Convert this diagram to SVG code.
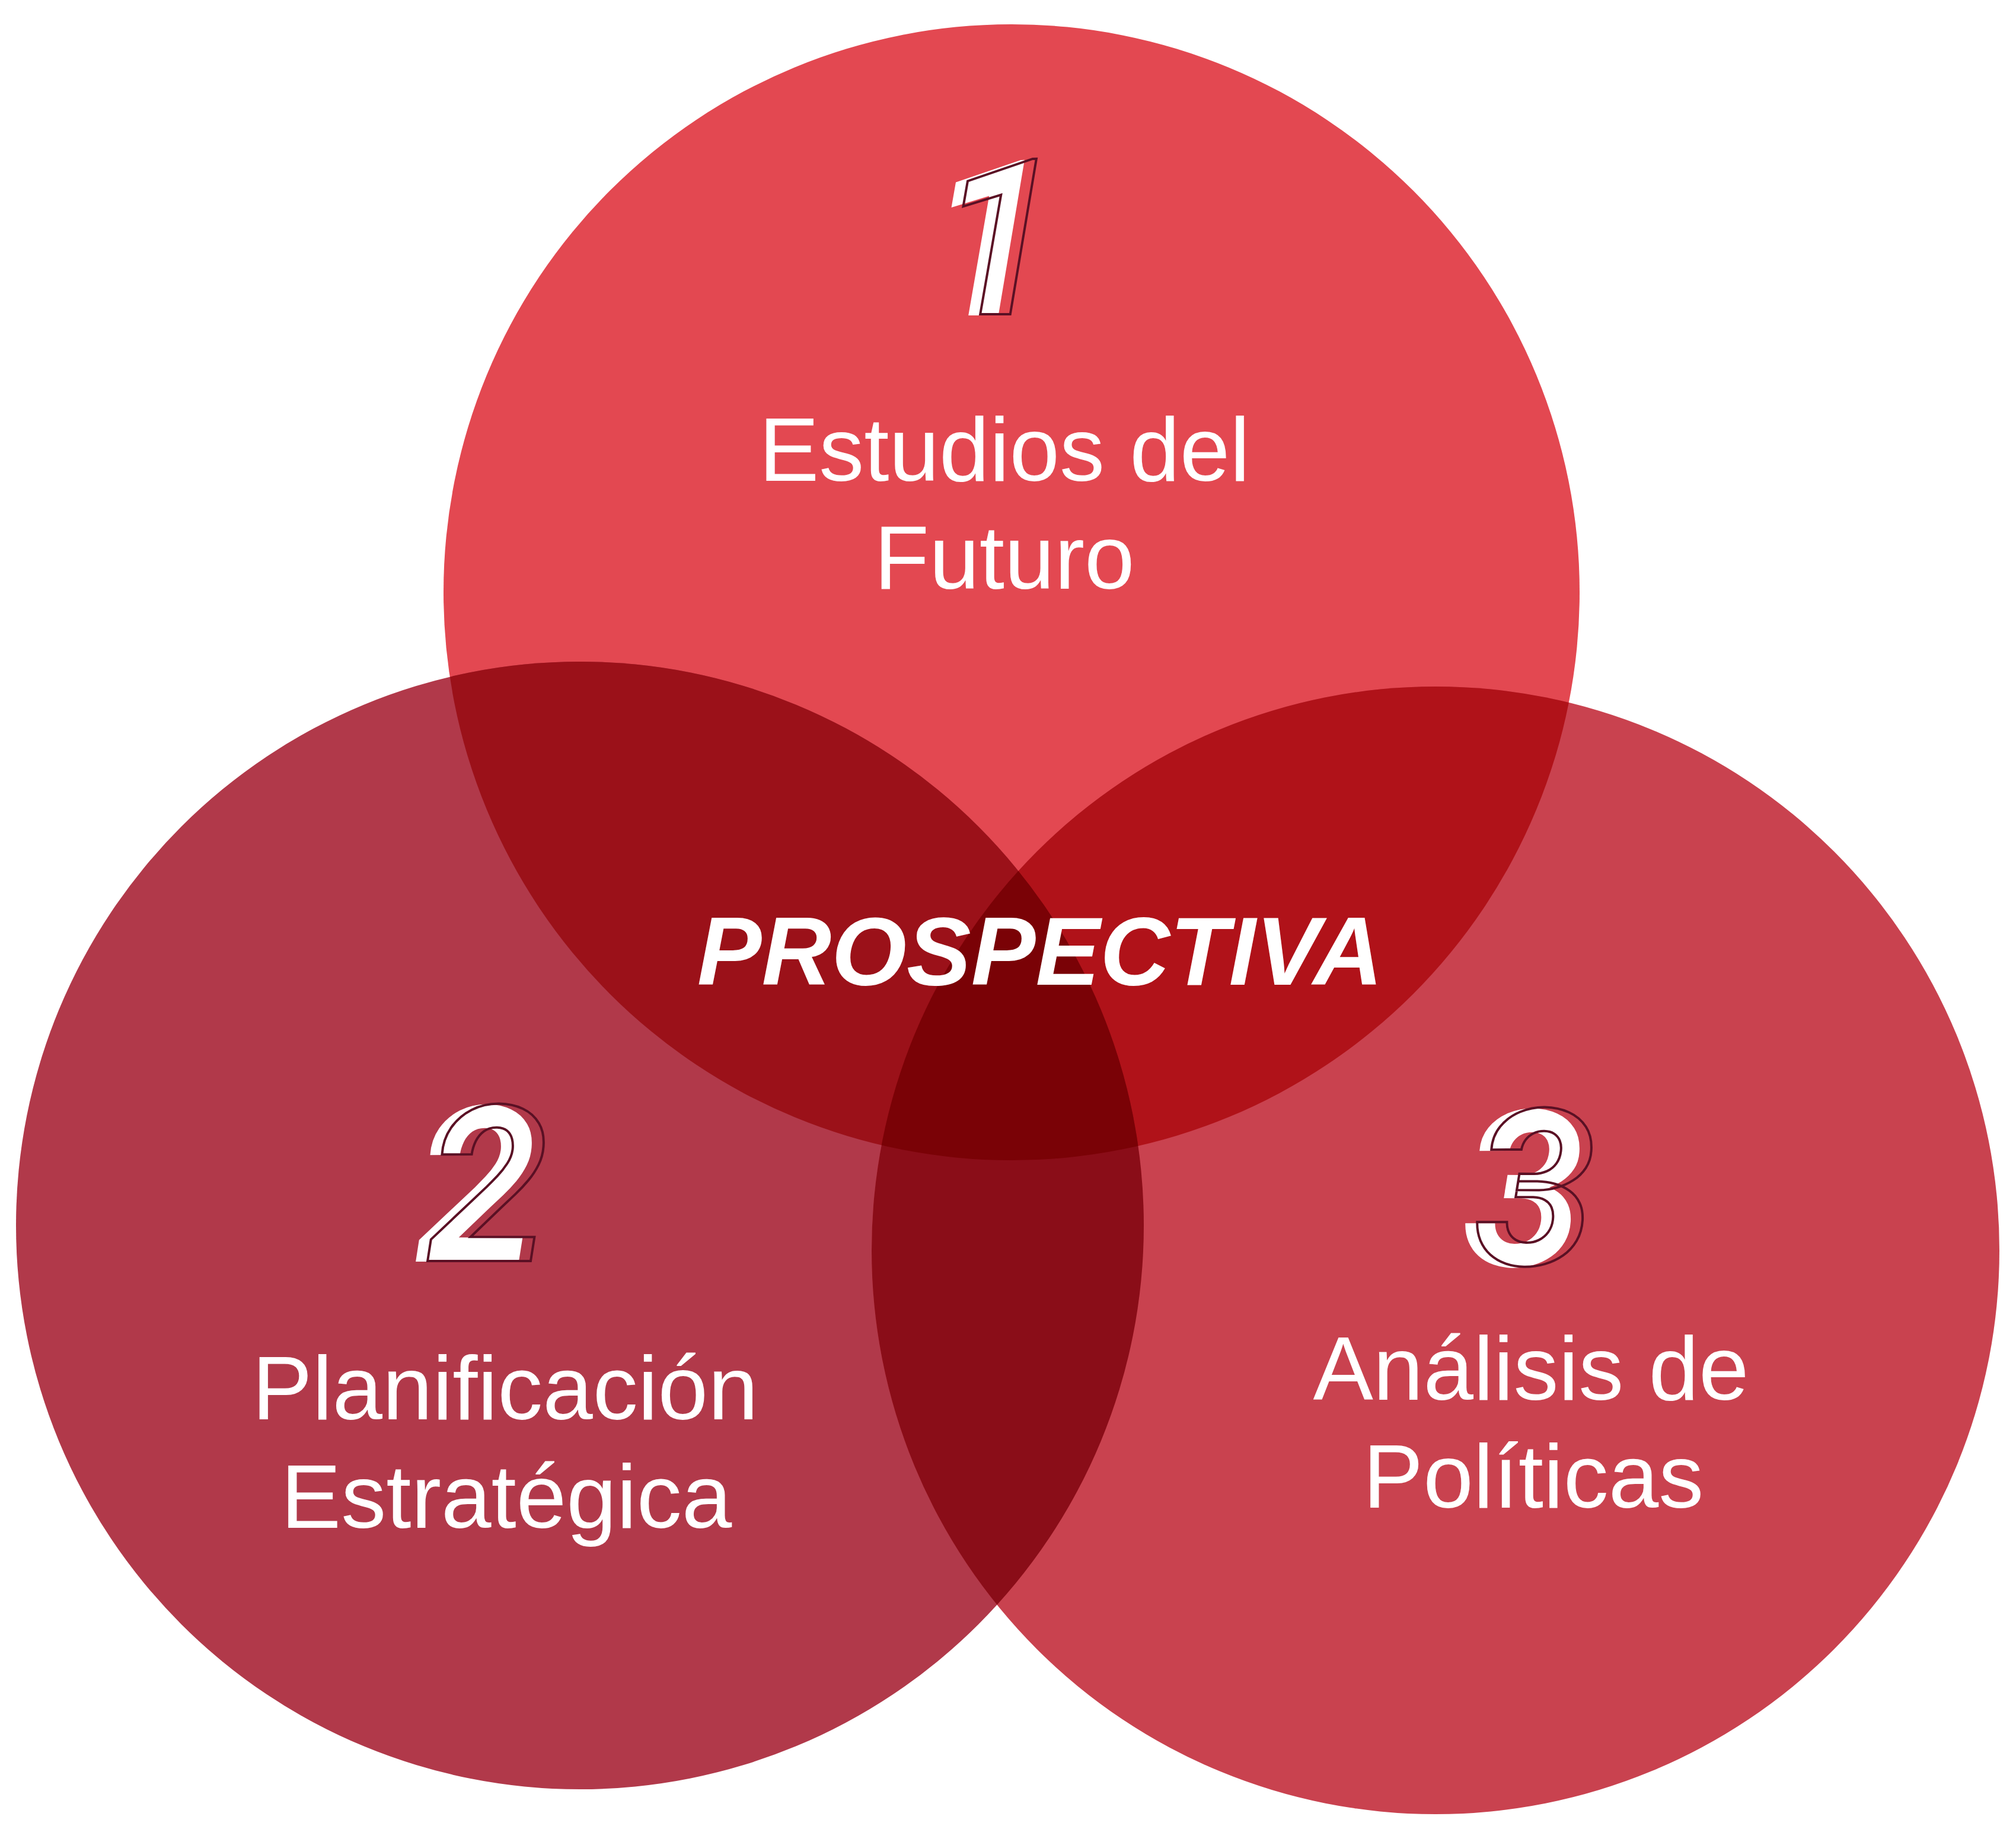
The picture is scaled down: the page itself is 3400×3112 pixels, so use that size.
<svg xmlns="http://www.w3.org/2000/svg" width="3400" height="3112" viewBox="0 0 3400 3112">
<style>
.lbl{font-family:"Liberation Sans",Arial,sans-serif;font-size:152px;fill:#ffffff;text-anchor:middle}
.num{font-family:Roboto,"Liberation Sans",Arial,sans-serif;font-size:368px;font-weight:bold;font-style:italic;text-anchor:middle}
.numw{fill:#ffffff}
.numo{fill:none;stroke:#5A1024;stroke-width:4}
.title{font-family:"Liberation Sans",Arial,sans-serif;font-size:163px;font-weight:bold;font-style:italic;fill:#ffffff;text-anchor:middle}
</style>
<defs>
<clipPath id="cTop"><circle cx="1706" cy="999" r="958"/></clipPath>
<clipPath id="cLeft"><circle cx="978" cy="2067" r="951"/></clipPath>
<clipPath id="cRight"><circle cx="2421" cy="2109" r="951"/></clipPath>
</defs>
<rect width="3400" height="3112" fill="#ffffff"/>
<g id="node-1-shape"><circle cx="1706" cy="999" r="958" fill="#E34851"/></g>
<g id="node-2-shape"><circle cx="978" cy="2067" r="951" fill="#B1394A"/></g>
<g id="node-3-shape"><circle cx="2421" cy="2109" r="951" fill="#C9424F"/></g>
<g id="overlaps">
<circle cx="978" cy="2067" r="951" fill="#9B1119" clip-path="url(#cTop)"/>
<circle cx="2421" cy="2109" r="951" fill="#B01219" clip-path="url(#cTop)"/>
<circle cx="2421" cy="2109" r="951" fill="#8A0D18" clip-path="url(#cLeft)"/>
<g clip-path="url(#cTop)"><circle cx="2421" cy="2109" r="951" fill="#7A0206" clip-path="url(#cLeft)"/></g>
</g>
<g id="node-1">
<text class="num numw" x="1665" y="532">1</text>
<text class="num numo" x="1685" y="530">1</text>
<text class="lbl" x="1694" y="811">Estudios del</text>
<text class="lbl" x="1694" y="993">Futuro</text>
</g>
<g id="node-2">
<text class="num numw" x="803" y="2128">2</text>
<text class="num numo" x="823" y="2127">2</text>
<text class="lbl" x="852" y="2394">Planificación</text>
<text class="lbl" x="854" y="2577">Estratégica</text>
</g>
<g id="node-3">
<text class="num numw" x="2569" y="2135">3</text>
<text class="num numo" x="2589" y="2133">3</text>
<text class="lbl" x="2582" y="2361">Análisis de</text>
<text class="lbl" x="2586" y="2543">Políticas</text>
</g>
<g id="center">
<text class="title" x="1754" y="1661">PROSPECTIVA</text>
</g>
</svg>
